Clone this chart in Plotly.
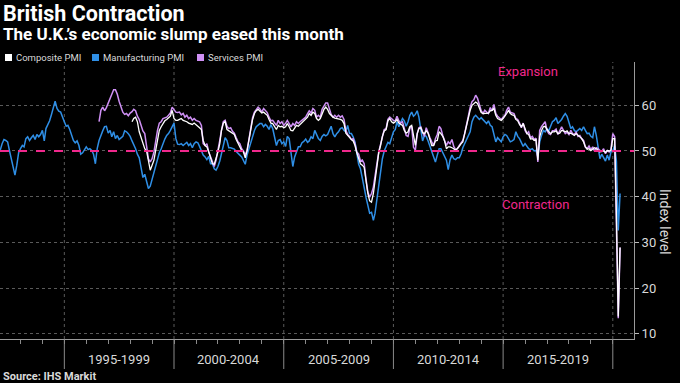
import pandas as pd
import plotly.graph_objects as go

# ---------------- data (monthly index levels) ----------------
# Manufacturing PMI, Jan 1992 - May 2020
manufacturing = [
    49.6, 50.3, 51.6, 52.5, 52.3, 52.0, 50.1, 48.3, 46.6, 44.7, 46.9, 49.6,  # 1992
    50.5, 51.2, 50.9, 52.7, 53.1, 52.3, 52.9, 53.4, 52.5, 53.6, 53.1, 53.6,  # 1993
    54.5, 52.2, 54.9, 55.6, 56.6, 58.0, 59.5, 60.9, 59.3, 58.7, 58.5, 57.3,  # 1994
    56.4, 55.4, 55.6, 54.7, 53.6, 52.3, 51.8, 52.2, 51.2, 49.3, 49.6, 50.3,  # 1995
    50.9, 50.3, 50.5, 50.1, 49.3, 47.2, 50.5, 52.3, 53.6, 54.4, 55.3, 55.4,  # 1996
    53.9, 54.5, 53.1, 54.2, 52.7, 53.4, 52.5, 52.9, 53.2, 54.4, 54.2, 53.8,  # 1997
    53.2, 52.2, 51.5, 50.5, 49.3, 48.5, 46.4, 44.2, 44.9, 43.6, 41.8, 42.3,  # 1998
    43.9, 44.9, 46.6, 48.5, 49.6, 50.5, 51.8, 52.6, 53.4, 53.8, 54.5, 55.4,  # 1999
    56.1, 52.7, 51.5, 51.4, 51.6, 51.2, 51.6, 51.9, 51.2, 51.6, 50.7, 51.6,  # 2000
    52.0, 51.8, 51.0, 50.1, 49.1, 48.7, 48.1, 48.8, 47.2, 47.2, 46.1, 45.8,  # 2001
    46.6, 47.8, 49.4, 51.2, 52.9, 52.3, 50.7, 50.7, 50.5, 50.4, 49.9, 49.4,  # 2002
    49.1, 48.7, 47.8, 47.1, 49.1, 50.5, 52.0, 53.4, 54.5, 55.3, 55.6, 56.0,  # 2003
    56.0, 55.3, 55.8, 55.4, 54.7, 55.8, 54.9, 52.7, 51.2, 52.3, 52.5, 51.6,  # 2004
    52.0, 51.0, 53.2, 52.7, 49.8, 46.6, 48.7, 49.8, 50.9, 50.9, 51.8, 52.1,  # 2005
    52.6, 51.9, 52.2, 53.1, 52.7, 54.5, 53.4, 52.7, 52.3, 53.2, 53.6, 53.3,  # 2006
    53.6, 54.4, 55.4, 53.8, 53.1, 53.8, 54.2, 54.9, 55.1, 54.5, 54.2, 55.6,  # 2007
    53.8, 53.8, 53.1, 52.0, 49.4, 47.1, 46.1, 43.6, 42.0, 39.9, 37.7, 36.4,  # 2008
    36.6, 34.8, 36.4, 39.6, 42.8, 46.1, 48.3, 50.0, 51.0, 51.9, 51.6, 53.1,  # 2009
    54.2, 54.7, 56.4, 55.3, 56.1, 57.1, 56.6, 55.4, 56.4, 57.8, 58.5, 57.6,  # 2010
    58.0, 58.8, 57.4, 54.5, 52.2, 53.4, 53.2, 52.2, 51.0, 49.6, 48.3, 47.6,  # 2011
    49.1, 50.5, 50.5, 49.6, 49.1, 48.0, 45.9, 48.1, 49.1, 48.3, 48.1, 48.5,  # 2012
    48.5, 49.4, 50.7, 51.6, 52.1, 53.1, 54.2, 56.4, 57.4, 57.8, 57.3, 56.9,  # 2013
    57.3, 56.9, 56.4, 56.0, 56.6, 55.6, 55.3, 53.8, 52.0, 52.9, 52.5, 52.0,  # 2014
    53.1, 53.6, 53.4, 52.6, 52.0, 52.2, 52.5, 54.2, 53.2, 52.7, 51.8, 51.0,  # 2015
    51.6, 50.9, 50.5, 50.3, 50.5, 50.0, 50.1, 48.8, 52.0, 53.4, 54.5, 54.2,  # 2016
    54.9, 54.5, 55.6, 56.4, 56.7, 57.3, 56.0, 56.4, 56.9, 57.6, 58.2, 57.6,  # 2017
    56.4, 54.9, 55.3, 54.5, 54.2, 54.5, 54.9, 54.5, 55.3, 54.5, 53.8, 53.9,  # 2018
    53.2, 52.9, 55.3, 53.4, 50.9, 48.3, 49.3, 48.5, 47.8, 49.1, 48.0, 49.8,  # 2019
    50.0, 51.2, 47.8, 32.6, 40.7,                                            # 2020
]

# Services PMI, Aug 1996 - May 2020
services = [
    56.4, 58.9, 59.6, 58.8, 59.5,                                            # 1996
    60.4, 61.5, 62.4, 63.4, 63.4, 62.4, 60.9, 59.5, 58.5, 58.0, 58.2, 57.7,  # 1997
    58.3, 58.6, 59.1, 58.8, 57.6, 56.9, 55.8, 54.4, 53.8, 51.2, 48.3, 47.6,  # 1998
    48.3, 49.8, 52.3, 54.5, 56.1, 56.4, 57.1, 57.3, 57.4, 57.8, 58.3, 59.6,  # 1999
    59.0, 58.5, 58.4, 58.5, 57.9, 58.2, 57.4, 57.8, 57.1, 57.4, 56.7, 57.1,  # 2000
    56.7, 56.6, 56.4, 55.6, 51.6, 51.2, 51.6, 49.8, 48.8, 47.4, 46.6, 48.0,  # 2001
    49.8, 52.3, 54.5, 56.4, 56.7, 55.4, 54.9, 55.1, 54.3, 53.9, 52.9, 52.0,  # 2002
    51.6, 50.5, 50.0, 49.1, 50.1, 52.7, 55.6, 57.3, 58.5, 59.2, 59.6, 59.2,  # 2003
    58.5, 59.3, 58.8, 58.4, 57.4, 56.6, 56.7, 56.0, 55.6, 56.7, 56.0, 56.4,  # 2004
    55.6, 56.1, 56.7, 56.0, 55.3, 56.0, 55.6, 56.4, 56.0, 56.4, 56.7, 57.1,  # 2005
    57.4, 58.2, 58.8, 58.3, 59.3, 58.9, 57.4, 57.8, 57.4, 59.1, 59.8, 60.5,  # 2006
    60.5, 59.1, 58.0, 57.4, 57.8, 57.4, 57.8, 57.4, 57.7, 56.9, 54.5, 53.6,  # 2007
    53.2, 52.5, 52.7, 51.6, 49.8, 49.3, 47.8, 48.0, 47.2, 43.9, 41.0, 39.9,  # 2008
    40.7, 42.1, 44.2, 47.2, 49.8, 51.6, 53.4, 54.7, 54.9, 56.9, 57.4, 57.1,  # 2009
    56.7, 56.6, 57.6, 56.6, 56.1, 56.4, 54.9, 53.4, 53.2, 54.9, 55.4, 50.8,  # 2010
    50.2, 53.8, 55.1, 55.3, 54.2, 53.2, 55.1, 53.8, 52.9, 52.0, 51.2, 52.7,  # 2011
    53.6, 55.4, 54.9, 53.4, 52.3, 51.2, 52.0, 51.6, 52.5, 51.0, 50.3, 50.5,  # 2012
    51.2, 51.8, 52.3, 53.8, 56.0, 57.6, 59.5, 60.8, 61.2, 62.2, 61.5, 60.0,  # 2013
    58.8, 58.2, 58.9, 58.5, 58.2, 59.5, 58.8, 60.2, 58.2, 57.6, 57.2, 56.9,  # 2014
    57.4, 57.8, 58.9, 59.6, 58.5, 58.3, 58.2, 57.1, 56.9, 56.1, 55.1, 56.1,  # 2015
    54.5, 53.8, 54.2, 52.9, 53.2, 52.5, 52.8, 47.6, 54.5, 55.3, 56.0, 56.4,  # 2016
    54.5, 53.8, 53.6, 54.4, 54.4, 54.8, 53.6, 54.4, 55.3, 54.5, 53.8, 54.1,  # 2017
    53.6, 54.5, 53.8, 53.6, 54.1, 53.2, 53.4, 52.7, 52.3, 50.9, 50.5, 51.1,  # 2018
    50.3, 50.9, 50.0, 50.7, 50.5, 50.1, 49.9, 50.5, 49.4, 50.1, 49.8, 50.3,  # 2019
    53.8, 53.1, 34.5, 13.4, 28.9,                                            # 2020
]

# Composite PMI, Feb 1998 - May 2020
composite = [
    56.4, 57.1, 57.4, 56.4, 54.2, 52.9, 51.6, 50.5, 50.0, 47.4, 45.8,        # 1998
    46.9, 48.0, 50.1, 52.2, 54.5, 55.3, 56.1, 56.6, 56.9, 57.3, 57.6, 58.9,  # 1999
    57.1, 56.7, 56.7, 56.9, 57.1, 56.7, 56.6, 56.4, 56.1, 56.0, 55.8, 56.1,  # 2000
    55.8, 55.4, 55.1, 54.7, 52.3, 51.2, 50.9, 49.8, 48.5, 47.2, 47.1, 48.3,  # 2001
    49.8, 51.6, 54.5, 56.1, 56.4, 54.7, 54.4, 54.2, 53.9, 53.6, 52.5, 51.6,  # 2002
    51.0, 50.1, 49.8, 48.5, 50.0, 52.3, 54.9, 56.9, 58.2, 58.8, 59.1, 58.8,  # 2003
    58.3, 58.5, 58.2, 57.8, 56.9, 56.1, 56.0, 55.3, 54.7, 55.6, 55.3, 55.4,  # 2004
    55.1, 55.3, 56.0, 55.3, 54.5, 54.4, 54.9, 55.6, 55.4, 55.8, 56.1, 56.6,  # 2005
    56.9, 57.4, 58.2, 57.8, 58.5, 58.2, 57.1, 56.7, 57.1, 58.3, 59.1, 59.6,  # 2006
    59.1, 58.2, 57.7, 57.4, 57.2, 57.1, 57.1, 56.9, 56.7, 56.0, 53.9, 53.4,  # 2007
    52.9, 52.5, 52.2, 51.2, 49.6, 48.5, 47.2, 46.9, 46.4, 43.6, 40.7, 39.1,  # 2008
    38.8, 40.7, 43.2, 46.6, 49.6, 51.2, 53.2, 54.4, 54.7, 56.6, 57.1, 56.4,  # 2009
    56.1, 56.4, 56.9, 56.1, 55.8, 55.6, 54.5, 53.9, 54.2, 55.3, 55.6, 52.9,  # 2010
    51.2, 53.8, 54.9, 55.1, 54.0, 53.8, 54.4, 53.9, 52.7, 51.2, 51.2, 52.2,  # 2011
    52.3, 54.2, 53.8, 53.2, 52.2, 50.5, 50.9, 50.9, 50.7, 50.5, 50.1, 50.5,  # 2012
    51.0, 51.6, 52.0, 53.8, 55.6, 57.3, 58.9, 60.0, 60.4, 60.7, 60.4, 59.6,  # 2013
    58.4, 58.2, 58.2, 58.2, 58.3, 58.8, 58.9, 59.3, 57.8, 57.1, 56.9, 56.7,  # 2014
    57.1, 57.6, 58.2, 58.9, 58.2, 57.9, 57.8, 56.9, 56.6, 55.8, 55.3, 56.0,  # 2015
    54.7, 53.8, 53.6, 52.6, 52.7, 52.3, 52.5, 48.0, 53.1, 54.5, 55.3, 55.4,  # 2016
    54.7, 54.2, 53.8, 54.2, 54.2, 54.4, 53.8, 53.9, 54.5, 54.4, 54.2, 54.4,  # 2017
    53.8, 53.9, 53.6, 53.4, 53.8, 53.4, 53.2, 52.7, 52.0, 50.9, 50.4, 50.5,  # 2018
    50.1, 50.5, 50.7, 50.5, 50.1, 49.8, 50.0, 50.0, 49.7, 50.1, 50.0, 50.1,  # 2019
    52.7, 52.7, 36.0, 13.8, 28.9,                                            # 2020
]

period_labels = ["1995-1999", "2000-2004", "2005-2009", "2010-2014", "2015-2019"]
period_starts = ["1995-01-01", "2000-01-01", "2005-01-01", "2010-01-01", "2015-01-01", "2020-01-01"]
period_mids = ["1997-07-02", "2002-07-02", "2007-07-02", "2012-07-02", "2017-07-02"]
y_ticks = [10, 20, 30, 40, 50, 60]

mfg_dates = pd.date_range("1992-01-01", periods=len(manufacturing), freq="MS")
srv_dates = pd.date_range("1996-08-01", periods=len(services), freq="MS")
cmp_dates = pd.date_range("1998-02-01", periods=len(composite), freq="MS")

# ---------------- styling ----------------
FONT = "Roboto"
BLUE = "#2f8fe6"
VIOLET = "#cf90f5"
WHITE = "#ffffff"
MAGENTA = "#f0288c"
GRID = "#5a5a5a"
TXT = "#d9d9d9"

W, H = 680, 383
ML, MR, MT, MB = 0, 46, 62, 44
PW, PH = W - ML - MR, H - MT - MB


def px(x):
    return (x - ML) / PW


def py(y):
    return (H - MB - y) / PH


fig = go.Figure()
fig.add_trace(go.Scatter(x=mfg_dates, y=manufacturing, mode="lines",
                         line=dict(color=BLUE, width=1.5), name="Manufacturing PMI",
                         showlegend=False))
fig.add_trace(go.Scatter(x=srv_dates, y=services, mode="lines",
                         line=dict(color=VIOLET, width=1.5), name="Services PMI",
                         showlegend=False))
fig.add_trace(go.Scatter(x=cmp_dates, y=composite, mode="lines",
                         line=dict(color=WHITE, width=1.3), name="Composite PMI",
                         showlegend=False))

shapes = []
for d in period_starts:
    shapes.append(dict(type="line", xref="x", yref="paper", x0=d, x1=d, y0=0, y1=1,
                       line=dict(color=GRID, width=1, dash="dot"), layer="below"))
    shapes.append(dict(type="line", xref="x", yref="paper", x0=d, x1=d, y0=0, y1=py(369),
                       line=dict(color="#8a8a8a", width=1)))
shapes.append(dict(type="line", xref="paper", yref="y", x0=0, x1=1, y0=50, y1=50,
                   line=dict(color=MAGENTA, width=2, dash="dash"), layer="above"))

legend_items = [("Composite PMI", WHITE, 5, 14), ("Manufacturing PMI", BLUE, 92, 101),
                ("Services PMI", VIOLET, 197, 206)]
annotations = []
for name, col, sx, tx in legend_items:
    shapes.append(dict(type="rect", xref="paper", yref="paper", x0=px(sx), x1=px(sx + 7),
                       y0=py(61), y1=py(54), fillcolor=col, line=dict(width=0)))
    annotations.append(dict(text=name, xref="paper", yref="paper", x=px(tx), y=py(57.5),
                            xanchor="left", yanchor="middle", showarrow=False,
                            font=dict(family=FONT, size=9.5, color=TXT)))

annotations += [
    dict(text="<b>British Contraction</b>", xref="paper", yref="paper", x=px(1), y=py(14),
         xanchor="left", yanchor="middle", showarrow=False,
         font=dict(family=FONT, size=21.5, color=WHITE)),
    dict(text="<b>The U.K.’s economic slump eased this month</b>", xref="paper", yref="paper",
         x=px(1), y=py(34.5), xanchor="left", yanchor="middle", showarrow=False,
         font=dict(family=FONT, size=17, color=WHITE)),
    dict(text="Expansion", xref="paper", yref="paper", x=px(528), y=py(72),
         xanchor="center", yanchor="middle", showarrow=False,
         font=dict(family=FONT, size=13, color=MAGENTA)),
    dict(text="Contraction", xref="paper", yref="paper", x=px(535), y=py(204),
         xanchor="center", yanchor="middle", showarrow=False,
         font=dict(family=FONT, size=13, color=MAGENTA)),
    dict(text="Index level", xref="paper", yref="paper", x=px(665), y=py(222),
         xanchor="center", yanchor="middle", showarrow=False, textangle=90,
         font=dict(family=FONT, size=14, color=TXT)),
    dict(text="<b>Source: IHS Markit</b>", xref="paper", yref="paper", x=px(1), y=py(376.5),
         xanchor="left", yanchor="middle", showarrow=False,
         font=dict(family=FONT, size=11, color=TXT)),
]
for lab, mid in zip(period_labels, period_mids):
    annotations.append(dict(text=lab, xref="x", yref="paper", x=mid, y=py(359),
                            xanchor="center", yanchor="middle", showarrow=False,
                            font=dict(family=FONT, size=13, color=TXT)))

year_ticks = [f"{y}-01-01" for y in range(1993, 2021)]

fig.update_layout(
    width=W, height=H,
    margin=dict(l=ML, r=MR, t=MT, b=MB),
    paper_bgcolor="#000000", plot_bgcolor="#000000",
    showlegend=False,
    shapes=shapes, annotations=annotations,
    font=dict(family=FONT, color=TXT),
    xaxis=dict(type="date", range=["1992-01-26", "2020-12-19"],
               tickvals=year_ticks, ticks="outside", ticklen=4, tickcolor="#8a8a8a",
               showticklabels=False, showgrid=False, zeroline=False,
               showline=True, linecolor="#9a9a9a", linewidth=1),
    yaxis=dict(side="right", range=[8.86, 69.47], tickvals=y_ticks,
               ticks="outside", ticklen=4, tickcolor="#bbbbbb",
               showgrid=True, gridcolor=GRID, griddash="dot", gridwidth=1,
               zeroline=False, showline=True, linecolor="#9a9a9a", linewidth=1,
               tickfont=dict(family=FONT, size=13, color=TXT)),
)

fig.write_html("out.html", config={"displayModeBar": False},
               post_script="document.body.style.margin='0';document.body.style.background='#000';")
